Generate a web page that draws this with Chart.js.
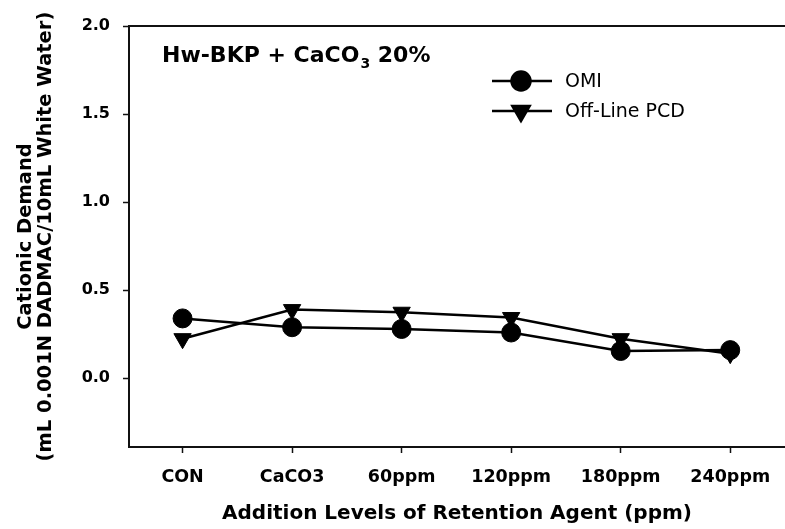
<!DOCTYPE html>
<html>
<head>
<meta charset="utf-8">
<script src="https://cdn.jsdelivr.net/npm/chart.js@4.4.1/dist/chart.umd.min.js"></script>
<style>
  html, body { margin: 0; padding: 0; background: #fff; }
  #wrap { width: 785px; height: 529px; }
</style>
</head>
<body>
<div id="wrap"><canvas id="chart" width="785" height="529"></canvas></div>
<script>
const categories = ['CON', 'CaCO3', '60ppm', '120ppm', '180ppm', '240ppm'];
const omiValues = [0.34, 0.29, 0.28, 0.26, 0.155, 0.16];
const pcdValues = [0.225, 0.39, 0.375, 0.345, 0.225, 0.14];
const yTicks = [0.0, 0.5, 1.0, 1.5, 2.0];
const seriesNames = ['OMI', 'Off-Line PCD'];

const BOLD = "'DejaVu Sans', Verdana, sans-serif";
const PLAIN = "'DejaVu Sans', Arial, sans-serif";

// top frame line, legend and panel label
const extras = {
  id: 'extras',
  afterDraw(chart) {
    const ctx = chart.ctx;
    const a = chart.chartArea;
    ctx.save();
    ctx.strokeStyle = '#111';
    ctx.lineWidth = 2;
    ctx.beginPath();
    ctx.moveTo(a.left, a.top);
    ctx.lineTo(a.right, a.top);
    ctx.stroke();

    // panel label, CaCO3 with subscript
    ctx.fillStyle = '#000';
    ctx.textBaseline = 'alphabetic';
    ctx.textAlign = 'left';
    let x = 162, y = 62;
    ctx.font = 'bold 22px ' + BOLD;
    ctx.fillText('Hw-BKP + CaCO', x, y);
    x += ctx.measureText('Hw-BKP + CaCO').width + 1;
    ctx.font = 'bold 14px ' + BOLD;
    ctx.fillText('3', x, y + 6);
    x += ctx.measureText('3').width;
    ctx.font = 'bold 22px ' + BOLD;
    ctx.fillText(' 20%', x, y);

    // legend
    const rows = [
      { name: seriesNames[0], style: 'circle', rot: 0, r: 9.5, y: 81 },
      { name: seriesNames[1], style: 'triangle', rot: 180, r: 10, y: 111 }
    ];
    rows.forEach(r => {
      ctx.strokeStyle = '#000';
      ctx.lineWidth = 2.5;
      ctx.beginPath();
      ctx.moveTo(492, r.y);
      ctx.lineTo(552, r.y);
      ctx.stroke();
      ctx.fillStyle = '#000';
      Chart.helpers.drawPoint(ctx, { pointStyle: r.style, rotation: r.rot, radius: r.r, borderWidth: 1 }, 521, r.y);
      ctx.font = '19px ' + PLAIN;
      ctx.textBaseline = 'middle';
      ctx.fillText(r.name, 565, r.y + 1);
    });
    ctx.restore();
  }
};

new Chart(document.getElementById('chart'), {
  type: 'line',
  data: {
    labels: categories,
    datasets: [
      {
        label: seriesNames[0],
        data: omiValues.map((v, i) => ({ x: i, y: v })),
        borderColor: '#000',
        backgroundColor: '#000',
        borderWidth: 2.5,
        pointStyle: 'circle',
        pointRadius: 9.5,
        pointBorderWidth: 1
      },
      {
        label: seriesNames[1],
        data: pcdValues.map((v, i) => ({ x: i, y: v })),
        borderColor: '#000',
        backgroundColor: '#000',
        borderWidth: 2.5,
        pointStyle: 'triangle',
        pointRotation: 180,
        pointRadius: 10,
        pointBorderWidth: 1
      }
    ]
  },
  options: {
    responsive: false,
    animation: false,
    layout: { autoPadding: false, padding: { left: 0, right: 0, top: 26, bottom: 0 } },
    plugins: {
      legend: { display: false },
      tooltip: { enabled: false }
    },
    scales: {
      x: {
        type: 'linear',
        min: -0.489,
        max: 5.5,
        afterBuildTicks: s => { s.ticks = categories.map((c, i) => ({ value: i })); },
        afterFit: s => { s.height = 82; s.paddingLeft = 0; s.paddingRight = 0; },
        grid: { display: true, drawOnChartArea: false, drawTicks: true, tickLength: 6, tickColor: '#111', tickWidth: 1.5 },
        border: { display: true, color: '#111', width: 2 },
        ticks: {
          color: '#000',
          font: { family: BOLD, size: 17.5, weight: 'bold' },
          padding: 14,
          maxRotation: 0,
          autoSkip: false,
          callback: v => categories[v]
        },
        title: {
          display: true,
          text: 'Addition Levels of Retention Agent (ppm)',
          color: '#000',
          font: { family: BOLD, size: 20, weight: 'bold' },
          padding: { top: 4, bottom: 3 }
        }
      },
      y: {
        min: -0.39,
        max: 2.0,
        afterBuildTicks: s => { s.ticks = yTicks.map(v => ({ value: v })); },
        afterFit: s => { s.width = 129; },
        grid: { display: true, drawOnChartArea: false, drawTicks: true, tickLength: 6, tickColor: '#111', tickWidth: 1.5 },
        border: { display: true, color: '#111', width: 2 },
        ticks: {
          color: '#000',
          font: { family: BOLD, size: 16, weight: 'bold' },
          padding: 13,
          callback: v => v.toFixed(1)
        },
        title: {
          display: true,
          text: ['Cationic Demand', '(mL 0.001N DADMAC/10mL White Water)'],
          color: '#000',
          font: { family: BOLD, size: 19.5, weight: 'bold', lineHeight: 1.03 },
          padding: { top: 16, bottom: 0 }
        }
      }
    }
  },
  plugins: [extras]
});
</script>
</body>
</html>
